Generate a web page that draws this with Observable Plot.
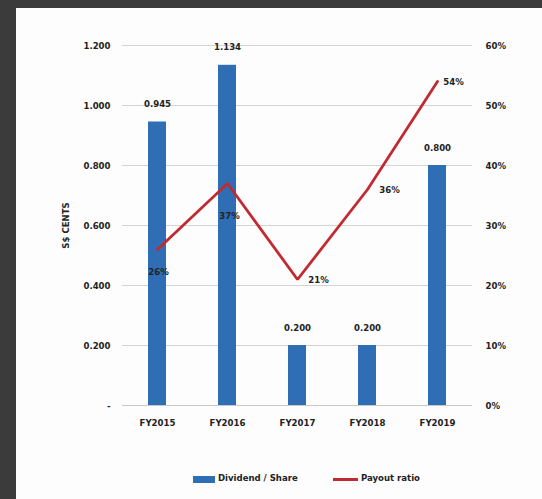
<!DOCTYPE html>
<html>
<head>
<meta charset="utf-8">
<script src="https://cdn.jsdelivr.net/npm/d3@7"></script>
<script src="https://cdn.jsdelivr.net/npm/@observablehq/plot@0.6"></script>
<style>
  html, body { margin: 0; padding: 0; background: #3b3b3b; width: 542px; height: 499px; overflow: hidden; }
  #panel { position: absolute; left: 16px; top: 8px; width: 526px; height: 491px; background: #fdfdfd; }
  #panel, svg { font-family: "Liberation Sans Narrow", "Arial Narrow", "DejaVu Sans Condensed", sans-serif; font-weight: bold; }
  .legend { position: absolute; top: 464px; left: 0; height: 14px; font-size: 9.5px; color: #222; }
  .sw { position: absolute; top: 4px; }
  .lt { position: absolute; top: 0; white-space: nowrap; }
</style>
</head>
<body>
<div id="panel"></div>
<script>
const years = ["FY2015", "FY2016", "FY2017", "FY2018", "FY2019"];
const dividend = [0.945, 1.134, 0.200, 0.200, 0.800];
const payout = [26, 37, 21, 36, 54];
const leftTicks = [0, 0.2, 0.4, 0.6, 0.8, 1.0, 1.2];
const rightTickLabels = ["0%", "10%", "20%", "30%", "40%", "50%", "60%"];
const leftTickLabels = ["-", "0.200", "0.400", "0.600", "0.800", "1.000", "1.200"];

const data = years.map((y, i) => ({year: y, div: dividend[i], pr: payout[i], i}));
const ratio = 1.2 / 60; // 60% on right axis aligns with 1.200 on left

const BLUE = "#2f6db5";
const RED = "#c22a31";

const chart = Plot.plot({
  width: 526,
  height: 430,
  marginLeft: 106,
  marginRight: 70,
  marginTop: 37,
  marginBottom: 33,
  style: {background: "transparent", fontSize: "9.5px", color: "#222"},
  x: {domain: years, paddingInner: 0.74, paddingOuter: 0.37},
  y: {domain: [0, 1.2]},
  marks: [
    Plot.gridY(leftTicks, {stroke: "#d4d4d4", strokeOpacity: 1, strokeWidth: 1.2}),
    Plot.ruleY([0], {stroke: "#c8c8c8", strokeWidth: 1.2}),
    Plot.axisY(leftTicks, {anchor: "left", tickSize: 0, tickPadding: 12,
      tickFormat: (d, i) => leftTickLabels[leftTicks.indexOf(d)],
      label: "S$ CENTS", labelAnchor: "center", labelArrow: "none", labelOffset: 60, fontWeight: "bold"}),
    Plot.axisY(leftTicks, {anchor: "right", tickSize: 0, tickPadding: 13,
      tickFormat: d => rightTickLabels[leftTicks.indexOf(d)], label: null, fontWeight: "bold"}),
    Plot.axisX({tickSize: 0, tickPadding: 14, label: null, fontWeight: "bold"}),
    Plot.barY(data, {x: "year", y: "div", fill: BLUE}),
    Plot.text(data, {x: "year", y: "div", text: d => d.div.toFixed(3), dy: -18, fontWeight: "bold", fill: "#222"}),
    Plot.line(data, {x: "year", y: d => d.pr * ratio, stroke: RED, strokeWidth: 2.8, strokeLinejoin: "miter"}),
    Plot.text(data.filter(d => d.i === 0), {x: "year", y: d => d.pr * ratio, text: d => d.pr + "%", dy: 22, dx: 1, fontWeight: "bold", fill: "#222"}),
    Plot.text(data.filter(d => d.i === 1), {x: "year", y: d => d.pr * ratio, text: d => d.pr + "%", dy: 32, dx: 2, fontWeight: "bold", fill: "#222"}),
    Plot.text(data.filter(d => d.i === 2), {x: "year", y: d => d.pr * ratio, text: d => d.pr + "%", dx: 21, fontWeight: "bold", fill: "#222"}),
    Plot.text(data.filter(d => d.i === 3), {x: "year", y: d => d.pr * ratio, text: d => d.pr + "%", dx: 22, fontWeight: "bold", fill: "#222"}),
    Plot.text(data.filter(d => d.i === 4), {x: "year", y: d => d.pr * ratio, text: d => d.pr + "%", dx: 16, fontWeight: "bold", fill: "#222"})
  ]
});

const panel = document.getElementById("panel");
panel.appendChild(chart);

const legend = document.createElement("div");
legend.className = "legend";
legend.innerHTML = `
  <div class="sw" style="left:177px;width:22px;height:7px;background:${BLUE}"></div>
  <div class="lt" style="left:202px">Dividend / Share</div>
  <div class="sw" style="left:317px;top:6px;width:25px;height:3px;background:${RED}"></div>
  <div class="lt" style="left:345px">Payout ratio</div>`;
panel.appendChild(legend);
</script>
</body>
</html>
